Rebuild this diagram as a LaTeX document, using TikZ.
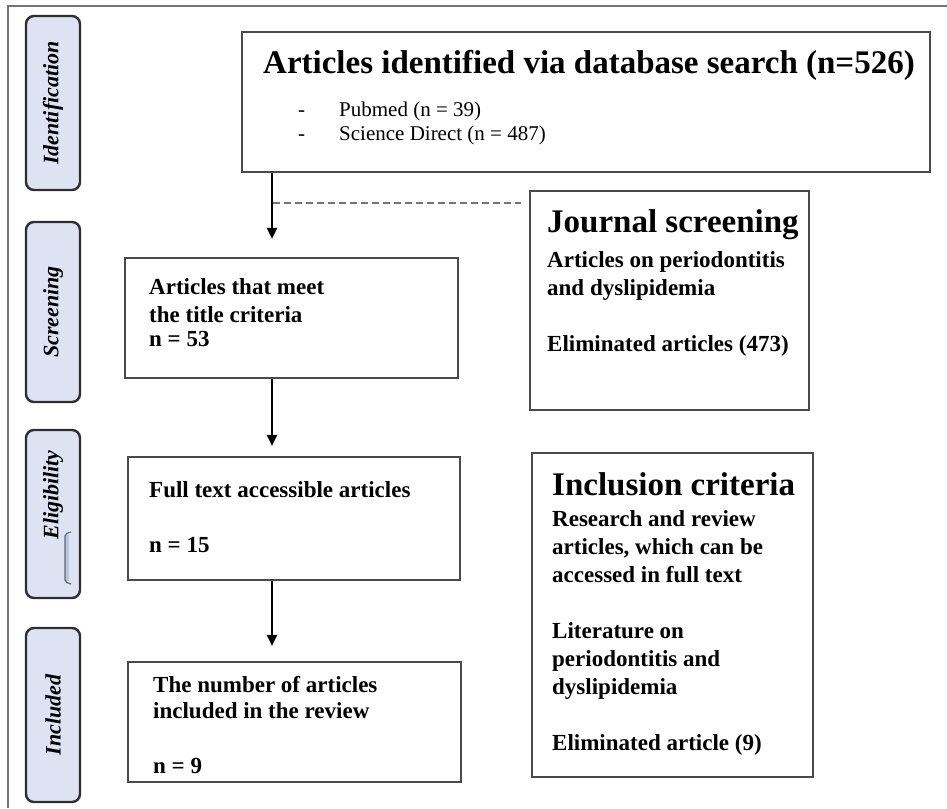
\documentclass[tikz,border=0pt]{standalone}
\usepackage{fontspec}
\setmainfont{Liberation Serif}
\usetikzlibrary{arrows.meta}
\definecolor{phasefill}{HTML}{DDE3F3}
\definecolor{phaseline}{HTML}{2E2E2E}
\definecolor{boxline}{HTML}{4A4A4A}
\definecolor{frameline}{HTML}{747474}
\definecolor{barfill}{HTML}{B8C4E4}
\begin{document}
\begin{tikzpicture}[x=1pt,y=-1pt]
  \tikzstyle{phase}=[draw=phaseline,line width=2.4pt,fill=phasefill,rounded corners=8pt,rotate=90,minimum height=54pt,inner sep=0pt,font=\fontsize{22}{26}\selectfont\bfseries\itshape]
  \tikzstyle{box}=[draw=boxline,line width=2.2pt,inner sep=0pt]
  \tikzstyle{head}=[anchor=north west,inner sep=0pt,font=\fontsize{33}{38}\selectfont\bfseries]
  \tikzstyle{body}=[anchor=north west,inner sep=0pt,align=left,font=\fontsize{23}{28}\selectfont\bfseries]
  \tikzstyle{plain}=[anchor=north west,inner sep=0pt,align=left,font=\fontsize{21}{24}\selectfont]
  \tikzstyle{arr}=[line width=2pt,-{Triangle[length=11pt,width=10pt]}]
  \tikzstyle{skipline}=[draw=frameline,line width=1.8pt,dash pattern=on 7pt off 4pt]
  \useasboundingbox (0,0) rectangle (947,808);
  \draw[draw=frameline,line width=2pt] (947,6) -- (8,6) -- (8,808);
  \node[phase,minimum width=174pt] (identification) at (53,103) {Identification};
  \node[phase,minimum width=180pt] (screening) at (53,312) {Screening};
  \node[phase,minimum width=168pt] (eligibility) at (53,514) {\hspace*{38pt}Eligibility};
  \node[phase,minimum width=174pt] (included) at (53,715) {Included};
  \fill[barfill] (65,535) rectangle (69,581);
  \draw[draw=black!60,line width=1.2pt,rounded corners=2pt] (71,532) -- (65,534) -- (65,582) -- (71,584);
  \node[box,minimum width=688pt,minimum height=140pt] (ident) at (586,102) {};
  \node[head] (identhead) at (263,50) {Articles identified via database search (n=526)};
  \node[plain] (sources) at (298,102) {\makebox[41pt][l]{-}Pubmed (n = 39)\\\makebox[41pt][l]{-}Science Direct (n = 487)};
  \node[box,minimum width=279pt,minimum height=219pt] (journal) at (669.5,300.5) {};
  \node[head] (journalhead) at (547,209) {Journal screening};
  \node[body] (journaltext) at (547,251) {Articles on periodontitis\\and dyslipidemia\\[28pt]Eliminated articles (473)};
  \node[box,minimum width=333pt,minimum height=120pt] (titlebox) at (291.5,318) {};
  \node[body] (titletext) at (149,278) {Articles that meet\\the title criteria\\[-4pt]n = 53};
  \node[box,minimum width=332pt,minimum height=123pt] (fullbox) at (294,518.5) {};
  \node[body] (fulltext) at (149,481) {Full text accessible articles\\[27pt]n = 15};
  \node[box,minimum width=281pt,minimum height=324pt] (inclusion) at (672.5,615) {};
  \node[head] (inclusionhead) at (552,472) {Inclusion criteria};
  \node[body] (inclusiontext) at (552,510) {Research and review\\articles, which can be\\accessed in full text\\[28pt]Literature on\\periodontitis and\\dyslipidemia\\[28pt]Eliminated article (9)};
  \node[box,minimum width=333pt,minimum height=120pt] (finalbox) at (294.5,722) {};
  \node[body] (finaltext) at (153,676) {The number of articles\\[-2pt]included in the review\\[27pt]n = 9};
  \coordinate (spine) at (272,0);
  \coordinate (split) at (273,203);
  \draw[arr,shorten >=18pt] (spine |- ident.south) -- (spine |- titlebox.north);
  \draw[arr,shorten >=10pt] (spine |- titlebox.south) -- (spine |- fullbox.north);
  \draw[arr,shorten >=15pt] (spine |- fullbox.south) -- (spine |- finalbox.north);
  \draw[skipline,shorten >=8pt] (split) -- (split -| journal.west);
\end{tikzpicture}
\end{document}
